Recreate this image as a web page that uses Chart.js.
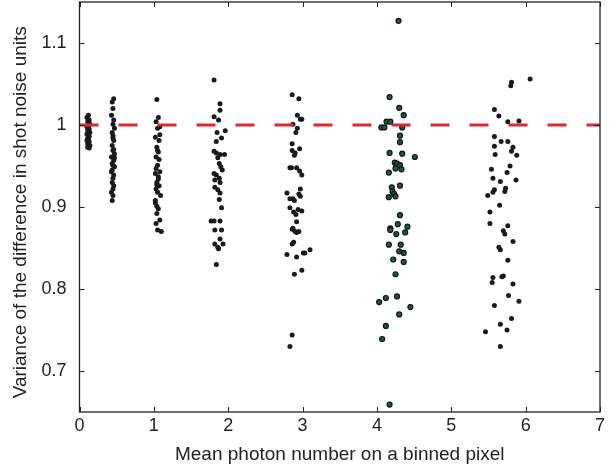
<!DOCTYPE html>
<html>
<head>
<meta charset="utf-8">
<script src="https://cdn.jsdelivr.net/npm/chart.js@4/dist/chart.umd.min.js"></script>
<style>
  html, body { margin: 0; padding: 0; background: #fff; }
  #shotNoise { display: block; }
</style>
</head>
<body>
<canvas id="shotNoise" width="614" height="466"></canvas>
<script>
// axis ticks
let xTickVals = [0, 1, 2, 3, 4, 5, 6, 7];
let yTickVals = [0.7, 0.8, 0.9, 1, 1.1];

// reference line (shot noise level)
let refX = [0, 7];
let refY = [1, 1];

// bin 1
let bin1X = [0.12, 0.10, 0.13, 0.11, 0.14, 0.12, 0.10, 0.13, 0.11, 0.12, 0.14, 0.10, 0.12, 0.13, 0.11, 0.12, 0.10, 0.13, 0.12, 0.11, 0.14, 0.12, 0.11, 0.13];
let bin1Y = [1.012, 1.009, 1.006, 1.004, 1.001, 0.999, 0.998, 0.995, 0.994, 0.992, 0.991, 0.989, 0.988, 0.986, 0.984, 0.983, 0.981, 0.980, 0.978, 0.977, 0.975, 0.974, 0.973, 0.972];

// bin 2
let bin2X = [0.46, 0.44, 0.45, 0.43, 0.46, 0.45, 0.47, 0.44, 0.45, 0.46, 0.44, 0.45, 0.47, 0.43, 0.46, 0.44, 0.45, 0.47, 0.44, 0.46, 0.45, 0.44, 0.46, 0.45, 0.43, 0.45, 0.44, 0.47, 0.43, 0.46, 0.45];
let bin2Y = [1.032, 1.028, 1.020, 1.012, 1.006, 1.001, 0.996, 0.991, 0.987, 0.981, 0.975, 0.969, 0.965, 0.961, 0.957, 0.953, 0.951, 0.949, 0.945, 0.939, 0.935, 0.930, 0.926, 0.922, 0.918, 0.914, 0.908, 0.960, 0.943, 0.970, 0.984];

// bin 3
let bin3X = [1.04, 1.06, 1.03, 1.08, 1.05, 1.02, 1.07, 1.04, 1.06, 1.03, 1.05, 1.08, 1.02, 1.06, 1.04, 1.07, 1.03, 1.05, 1.09, 1.02, 1.06, 1.04, 1.08, 1.03, 1.05, 1.10, 1.07, 1.03, 1.06, 1.04, 1.02, 1.08, 1.05, 1.04];
let bin3Y = [1.031, 1.009, 1.004, 0.998, 0.996, 0.985, 0.981, 0.973, 0.967, 0.961, 0.951, 0.943, 0.941, 0.937, 0.930, 0.926, 0.922, 0.918, 0.914, 0.908, 0.898, 0.892, 0.884, 0.880, 0.872, 0.870, 0.958, 0.947, 0.934, 0.927, 0.905, 0.988, 0.969, 0.901];

// bin 4
let bin4X = [1.81, 1.89, 1.89, 1.81, 1.87, 1.96, 1.85, 1.91, 1.84, 1.81, 1.84, 1.89, 1.95, 1.86, 1.88, 1.90, 1.92, 1.81, 1.84, 1.88, 1.82, 1.89, 1.82, 1.86, 1.89, 1.88, 1.91, 1.77, 1.81, 1.89, 1.82, 1.91, 1.82, 1.89, 1.93, 1.86, 1.87, 1.84];
let bin4Y = [1.055, 1.026, 1.018, 1.010, 1.006, 0.993, 0.991, 0.984, 0.980, 0.968, 0.966, 0.964, 0.964, 0.960, 0.953, 0.949, 0.945, 0.941, 0.939, 0.935, 0.933, 0.930, 0.924, 0.921, 0.917, 0.909, 0.899, 0.883, 0.883, 0.883, 0.872, 0.872, 0.855, 0.861, 0.855, 0.851, 0.849, 0.830];

// bin 5
let bin5X = [2.86, 2.95, 2.93, 2.97, 2.99, 2.87, 2.93, 2.91, 2.86, 2.96, 2.86, 2.90, 2.89, 2.83, 2.85, 2.92, 2.96, 2.99, 2.97, 2.79, 2.95, 2.97, 2.83, 2.87, 2.89, 2.83, 2.88, 2.91, 2.94, 2.99, 2.92, 2.86, 2.87, 2.90, 2.92, 2.95, 2.88, 2.86, 2.79, 2.92, 3.01, 3.03, 3.10, 2.89, 2.99, 2.86, 2.83];
let bin5Y = [1.037, 1.032, 1.012, 1.007, 1.007, 1.001, 0.996, 0.991, 0.977, 0.971, 0.969, 0.966, 0.963, 0.948, 0.948, 0.948, 0.944, 0.939, 0.922, 0.917, 0.916, 0.913, 0.910, 0.910, 0.908, 0.899, 0.894, 0.891, 0.897, 0.895, 0.882, 0.873, 0.874, 0.870, 0.869, 0.870, 0.857, 0.855, 0.842, 0.839, 0.844, 0.844, 0.848, 0.818, 0.823, 0.744, 0.730];

// bin 6
let bin6X = [4.29, 4.17, 4.30, 4.36, 4.13, 4.18, 4.06, 4.10, 4.34, 4.31, 4.31, 4.17, 4.34, 4.51, 4.24, 4.27, 4.31, 4.25, 4.33, 4.16, 4.31, 4.20, 4.21, 4.23, 4.16, 4.25, 4.31, 4.28, 4.41, 4.18, 4.18, 4.38, 4.26, 4.16, 4.32, 4.30, 4.36, 4.22, 4.36, 4.25, 4.03, 4.12, 4.27, 4.45, 4.30, 4.12, 4.07, 4.17];
let bin6Y = [1.127, 1.034, 1.021, 1.012, 1.004, 1.004, 0.997, 0.997, 0.997, 0.987, 0.979, 0.966, 0.965, 0.961, 0.954, 0.953, 0.951, 0.947, 0.946, 0.942, 0.926, 0.924, 0.919, 0.916, 0.912, 0.913, 0.890, 0.879, 0.876, 0.874, 0.872, 0.869, 0.867, 0.854, 0.854, 0.846, 0.844, 0.836, 0.833, 0.818, 0.784, 0.789, 0.791, 0.778, 0.769, 0.755, 0.739, 0.659];

// bin 7
let bin7X = [6.06, 5.81, 5.80, 5.58, 5.64, 5.76, 5.91, 5.58, 5.67, 5.76, 5.58, 5.83, 5.81, 5.88, 5.59, 5.79, 5.54, 5.75, 5.56, 5.87, 5.66, 5.58, 5.56, 5.73, 5.72, 5.49, 5.65, 5.52, 5.52, 5.76, 5.70, 5.72, 5.83, 5.64, 5.66, 5.76, 5.56, 5.55, 5.68, 5.70, 5.83, 5.77, 5.91, 5.58, 5.81, 5.66, 5.75, 5.46, 5.66];
let bin7Y = [1.056, 1.052, 1.048, 1.019, 1.011, 1.004, 1.005, 0.986, 0.980, 0.980, 0.974, 0.973, 0.968, 0.963, 0.964, 0.950, 0.946, 0.942, 0.935, 0.933, 0.931, 0.921, 0.918, 0.923, 0.919, 0.914, 0.902, 0.894, 0.880, 0.877, 0.871, 0.867, 0.858, 0.851, 0.848, 0.835, 0.814, 0.808, 0.815, 0.816, 0.806, 0.792, 0.785, 0.780, 0.764, 0.757, 0.750, 0.748, 0.730];

let bins = [
    [bin1X, bin1Y], [bin2X, bin2Y], [bin3X, bin3Y], [bin4X, bin4Y],
    [bin5X, bin5Y], [bin6X, bin6Y], [bin7X, bin7Y]
];

function toPoints(xs, ys){
    let pts = [];
    for(let i = 0; i < xs.length; i++){
        pts.push({x: xs[i], y: ys[i]});
    }
    return pts;
}

let datasets = [{
    type: 'line',
    data: toPoints(refX, refY),
    borderColor: '#e3262b',
    borderWidth: 3,
    borderDash: [19, 20],
    pointRadius: 0,
    fill: false,
    order: 0
}];

bins.forEach((bin, i) => {
    let green = (i === 5);
    datasets.push({
        data: toPoints(bin[0], bin[1]),
        pointRadius: 2.5,
        pointBackgroundColor: green ? '#1e5a40' : '#1a1a1a',
        pointBorderColor: '#141414',
        pointBorderWidth: green ? 1.2 : 0,
        order: 1
    });
});

// box frame with inward ticks on all four sides
const boxTicks = {
    id: 'boxTicks',
    afterDatasetsDraw(chart){
        let ctx = chart.ctx;
        let a = chart.chartArea;
        let xs = chart.scales.x, ys = chart.scales.y;
        let len = 5;
        ctx.save();
        ctx.strokeStyle = '#222';
        ctx.lineWidth = 1;
        ctx.beginPath();
        xs.ticks.forEach(t => {
            let px = Math.round(xs.getPixelForValue(t.value)) + 0.5;
            ctx.moveTo(px, a.bottom); ctx.lineTo(px, a.bottom - len);
            ctx.moveTo(px, a.top); ctx.lineTo(px, a.top + len);
        });
        ys.ticks.forEach(t => {
            let py = Math.round(ys.getPixelForValue(t.value)) + 0.5;
            ctx.moveTo(a.left, py); ctx.lineTo(a.left + len, py);
            ctx.moveTo(a.right, py); ctx.lineTo(a.right - len, py);
        });
        ctx.stroke();
        ctx.lineWidth = 1.3;
        ctx.strokeRect(a.left, a.top, a.right - a.left, a.bottom - a.top);
        ctx.restore();
    }
};

let tickFont = { family: 'Liberation Sans, Arial, sans-serif', size: 18 };
let titleFont = { family: 'Liberation Sans, Arial, sans-serif', size: 19 };

new Chart(document.getElementById('shotNoise').getContext('2d'), {
    type: 'scatter',
    data: { datasets: datasets },
    options: {
        responsive: false,
        animation: false,
        layout: { autoPadding: false, padding: { left: 0, right: 14, top: 2, bottom: 0 } },
        scales: {
            x: {
                type: 'linear',
                min: 0,
                max: 7,
                afterBuildTicks: s => { s.ticks = xTickVals.map(v => ({value: v})); },
                afterFit: s => { s.height = 54; s.paddingLeft = 0; s.paddingRight = 0; },
                grid: { display: false, drawTicks: false },
                border: { display: false },
                ticks: {
                    color: '#222',
                    font: tickFont,
                    padding: 3,
                    callback: v => String(v)
                },
                title: {
                    display: true,
                    text: 'Mean photon number on a binned pixel',
                    color: '#222',
                    font: titleFont,
                    padding: { top: 4, bottom: 0 }
                }
            },
            y: {
                type: 'linear',
                min: 0.65,
                max: 1.15,
                afterBuildTicks: s => { s.ticks = yTickVals.map(v => ({value: v})); },
                afterFit: s => { s.width = 79.5; s.paddingTop = 0; s.paddingBottom = 0; },
                grid: { display: false, drawTicks: false },
                border: { display: false },
                ticks: {
                    color: '#222',
                    font: tickFont,
                    padding: 13,
                    callback: v => String(+v.toFixed(1))
                },
                title: {
                    display: true,
                    text: 'Variance of the difference in shot noise units  ',
                    color: '#222',
                    font: titleFont,
                    padding: { top: 9, bottom: 0 }
                }
            }
        },
        plugins: {
            legend: { display: false },
            tooltip: { enabled: false }
        }
    },
    plugins: [boxTicks]
});
</script>
</body>
</html>
